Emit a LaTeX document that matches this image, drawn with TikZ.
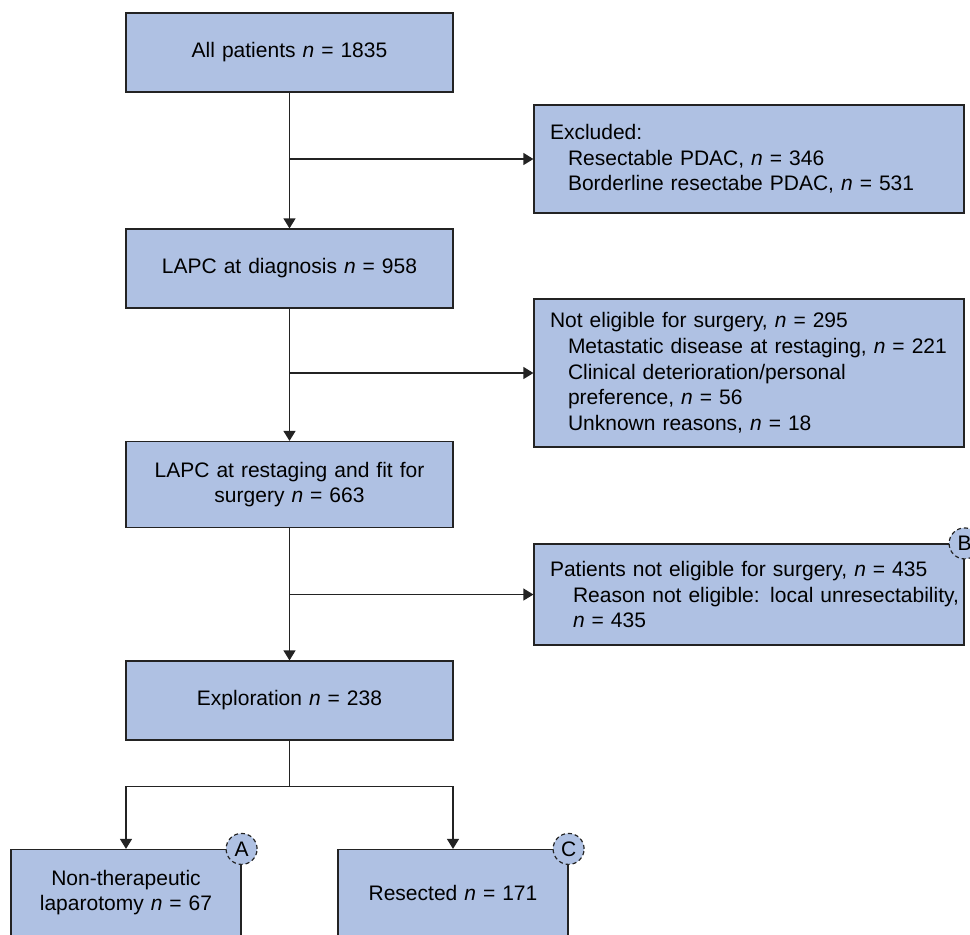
\documentclass[tikz,border=0pt]{standalone}
\usepackage{fontspec}
\setmainfont{Liberation Sans}
\usepackage{tikz}
\usetikzlibrary{shapes,arrows.meta,calc}
\hfuzz=20pt
\definecolor{stageBlue}{RGB}{175,193,227}
\definecolor{edgeGrey}{RGB}{35,35,35}
\tikzstyle{cohortBox} = [rectangle, draw=edgeGrey, line width=0.6pt, fill=stageBlue,
    text width=150pt, align=center, minimum width=163.5pt, minimum height=39.5pt,
    font=\fontsize{10.5pt}{12.85pt}\selectfont]
\tikzstyle{exclusionBox} = [rectangle, draw=edgeGrey, line width=0.6pt, fill=stageBlue,
    text width=199pt, inner xsep=8pt, align=left,
    font=\fontsize{10.5pt}{12.85pt}\selectfont]
\tikzstyle{flagCircle} = [circle, draw=edgeGrey, dash pattern=on 2pt off 1.5pt,
    line width=0.6pt, fill=stageBlue, minimum size=15.5pt, inner sep=0pt,
    font=\fontsize{10.5pt}{12pt}\selectfont]
\tikzstyle{flowArrow} = [draw=edgeGrey, line width=0.6pt, -{Triangle[length=5pt,width=6pt]}]

\begin{document}
\begin{tikzpicture}[x=0.5pt, y=-0.5pt, node distance=108pt]
    \useasboundingbox (0,0) rectangle (970,934);
    % Place nodes
    \node[cohortBox] (allPatients) at (289.5,52.5) {All patients \textit{n} = 1835};
    \node[cohortBox, below of=allPatients] (lapcDiagnosis) {LAPC at diagnosis \textit{n} = 958};
    \node[cohortBox, below of=lapcDiagnosis, minimum height=43pt] (lapcRestaging) {LAPC at restaging and fit for\\ surgery \textit{n} = 663};
    \node[cohortBox, below of=lapcRestaging] (exploration) {Exploration \textit{n} = 238};
    \node[cohortBox, below of=exploration, node distance=96pt, xshift=-81.75pt,
        text width=100pt, minimum width=115pt, minimum height=43pt] (laparotomy) {Non-therapeutic\\ laparotomy \textit{n} = 67};
    \node[cohortBox, below of=exploration, node distance=96pt, xshift=81.75pt,
        text width=100pt, minimum width=115pt, minimum height=43pt] (resected) {Resected \textit{n} = 171};

    \node[exclusionBox, minimum height=54pt] (excluded) at (749,159) {Excluded:\\
        \hspace*{9pt}Resectable PDAC, \textit{n} = 346\\
        \hspace*{9pt}Borderline resectabe PDAC, \textit{n} = 531};
    \node[exclusionBox, minimum height=74pt] (notEligible) at (749,373) {Not eligible for surgery, \textit{n} = 295\\
        \hspace*{9pt}Metastatic disease at restaging, \textit{n} = 221\\
        \hspace*{9pt}Clinical deterioration/personal\\
        \hspace*{9pt}preference, \textit{n} = 56\\
        \hspace*{9pt}Unknown reasons, \textit{n} = 18};
    \node[exclusionBox, minimum height=50.5pt] (notResectable) at (749,594.5) {Patients not eligible for surgery, \textit{n} = 435\\
        \hspace*{11.5pt}\mbox{Reason not eligible: local unresectability,}\\
        \hspace*{11.5pt}\textit{n} = 435};

    \node[flagCircle] (flagA) at (laparotomy.north east) {A};
    \node[flagCircle] (flagB) at (notResectable.north east) {B};
    \node[flagCircle] (flagC) at (resected.north east) {C};

    % Draw edges
    \coordinate (toExcluded) at (allPatients |- excluded);
    \coordinate (toNotEligible) at (lapcDiagnosis |- notEligible);
    \coordinate (toNotResectable) at (lapcRestaging |- notResectable);
    \coordinate (split) at ($(exploration.south)+(0,-23pt)$);

    \path[flowArrow] (allPatients) -- (lapcDiagnosis);
    \path[flowArrow] (lapcDiagnosis) -- (lapcRestaging);
    \path[flowArrow] (lapcRestaging) -- (exploration);
    \path[flowArrow] (toExcluded) -- (excluded);
    \path[flowArrow] (toNotEligible) -- (notEligible);
    \path[flowArrow] (toNotResectable) -- (notResectable);
    \draw[edgeGrey, line width=0.6pt] (exploration) -- (split);
    \path[flowArrow] (split) -| (laparotomy);
    \path[flowArrow] (split) -| (resected);
\end{tikzpicture}
\end{document}
